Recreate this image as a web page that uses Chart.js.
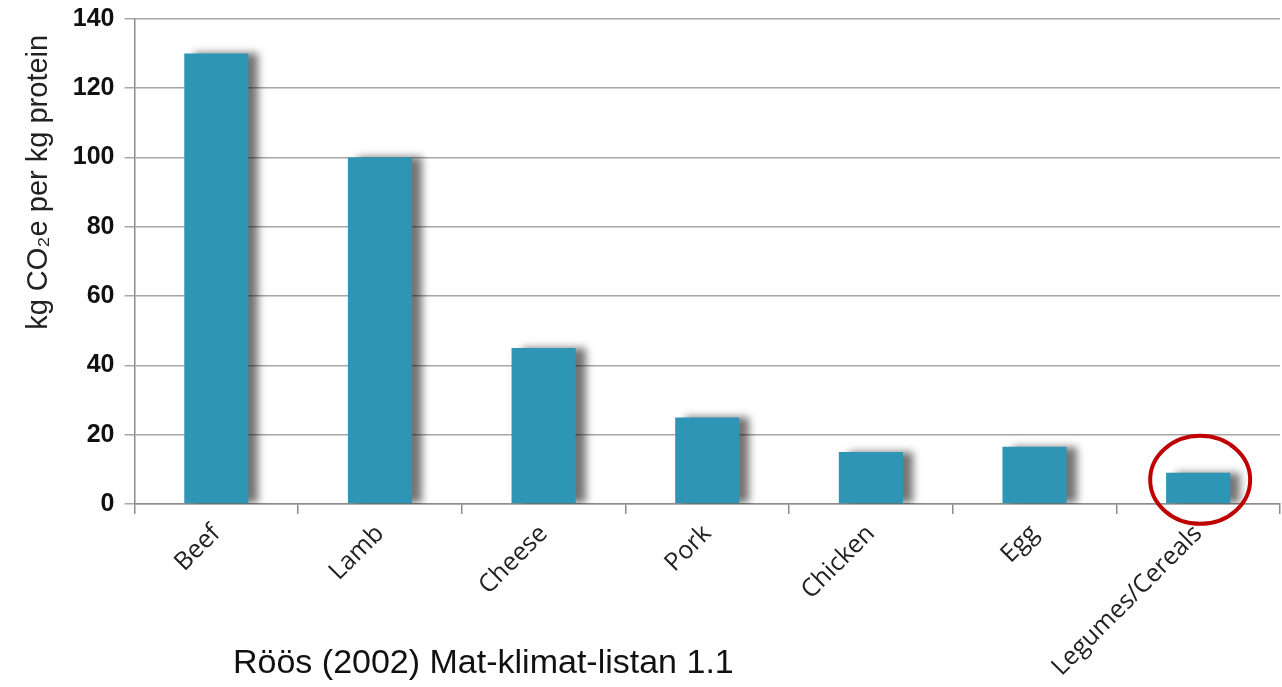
<!DOCTYPE html>
<html>
  <head>
    <title>CO2e per kg protein</title>
    <script src="https://cdn.jsdelivr.net/npm/chart.js@4.4.0/dist/chart.umd.min.js"></script>
    <style>
      body { margin: 0; background: #fff; }
      #wrap { position: relative; width: 1282px; height: 687px; }
      #source {
        position: absolute; left: 233px; top: 642px;
        font-family: Arial, 'Liberation Sans', sans-serif; font-size: 34px; color: #111;
      }
    </style>
  </head>
  <body>
    <div id="wrap">
      <canvas id="myChart" width="1282" height="687"></canvas>
      <div id="source">Röös (2002) Mat-klimat-listan 1.1</div>
    </div>
    <script>
      const foods = ['Beef', 'Lamb', 'Cheese', 'Pork', 'Chicken', 'Egg', 'Legumes/Cereals'];
      const co2PerProtein = [130, 100, 45, 25, 15, 16.5, 9];
      const highlighted = 6; // circled bar

      // grey drop shadow behind the bars, like the original office chart
      const barShadow = {
        id: 'barShadow',
        beforeDatasetDraw(chart) {
          const ctx = chart.ctx;
          ctx.save();
          ctx.shadowColor = 'rgba(0,0,0,0.55)';
          ctx.shadowOffsetX = 10;
          ctx.shadowOffsetY = 0;
          ctx.shadowBlur = 8;
        },
        afterDatasetDraw(chart) {
          chart.ctx.restore();
        }
      };

      // red ring around the legumes bar
      const redCircle = {
        id: 'redCircle',
        afterDraw(chart) {
          const ctx = chart.ctx;
          const cx = chart.scales.x.getPixelForValue(highlighted) + 2;
          const cy = chart.scales.y.getPixelForValue(7);
          ctx.save();
          ctx.strokeStyle = '#C00000';
          ctx.lineWidth = 4;
          ctx.beginPath();
          ctx.ellipse(cx, cy, 50, 44, 0, 0, Math.PI * 2);
          ctx.stroke();
          ctx.restore();
        }
      };

      const ctx = document.getElementById('myChart').getContext('2d');
      const myChart = new Chart(ctx, {
        type: 'bar',
        data: {
          labels: foods,
          datasets: [{
            data: co2PerProtein,
            backgroundColor: '#2E95B5',
            categoryPercentage: 0.8,
            barPercentage: 0.49
          }]
        },
        options: {
          responsive: false,
          animation: false,
          layout: { padding: { left: 18, right: 2, top: 0, bottom: 0 } },
          plugins: {
            legend: { display: false },
            tooltip: { enabled: false }
          },
          scales: {
            y: {
              min: 0,
              max: 140,
              ticks: {
                stepSize: 20,
                color: '#111',
                padding: 10,
                font: { family: 'Arial', size: 25, weight: 'bold', lineHeight: 0.7 }
              },
              grid: { color: '#a6a6a6', lineWidth: 1.5, tickLength: 10 },
              border: { color: '#8c8c8c', width: 1.5 },
              title: {
                display: true,
                align: 'end',
                text: 'kg CO₂e per kg protein  ',
                color: '#222',
                padding: { bottom: 6 },
                font: { family: 'Arial', size: 29 }
              }
            },
            x: {
              ticks: {
                minRotation: 45,
                maxRotation: 45,
                color: '#222',
                padding: 5,
                font: { family: 'Open Sans', size: 25 }
              },
              grid: { drawOnChartArea: false, color: '#8c8c8c', lineWidth: 1.5, tickLength: 10 },
              border: { color: '#8c8c8c', width: 1.5 }
            }
          }
        },
        plugins: [barShadow, redCircle]
      });
    </script>
  </body>
</html>
